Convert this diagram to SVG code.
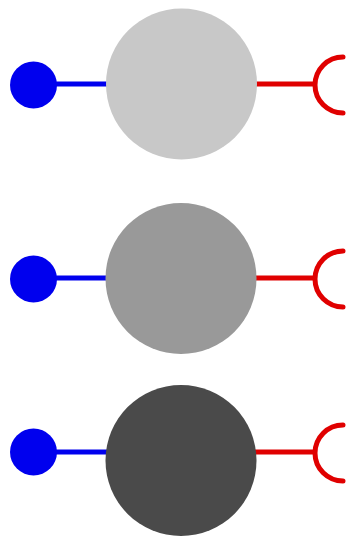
<svg xmlns="http://www.w3.org/2000/svg" width="354" height="542" viewBox="0 0 354 542">
<style>
.dot{fill:#0000ee}
.bl{stroke:#0000ee;stroke-width:5;fill:none}
.rl{stroke:#e00000;stroke-width:5;fill:none;stroke-linecap:round}
</style>
<rect width="354" height="542" fill="#ffffff"/>
<g id="connectors">
<line class="bl" x1="50" y1="84" x2="110" y2="84"/>
<line class="rl" x1="254" y1="84" x2="314" y2="84"/>
<path class="rl" d="M343,57 A28,28 0 0 0 343,113"/>
<line class="bl" x1="50" y1="278" x2="110" y2="278"/>
<line class="rl" x1="254" y1="278" x2="314" y2="278"/>
<path class="rl" d="M343,251 A28,28 0 0 0 343,307"/>
<line class="bl" x1="50" y1="452" x2="110" y2="452"/>
<line class="rl" x1="254" y1="452" x2="314" y2="452"/>
<path class="rl" d="M343,425 A28,28 0 0 0 343,481"/>
</g>
<g id="node1">
<circle class="dot" cx="33.5" cy="85" r="23.5"/>
<circle cx="181.5" cy="84" r="75.5" fill="#c8c8c8"/>
</g>
<g id="node2">
<circle class="dot" cx="33.5" cy="279" r="23.5"/>
<circle cx="181" cy="278.5" r="75.5" fill="#999999"/>
</g>
<g id="node3">
<circle class="dot" cx="33.5" cy="452" r="23.5"/>
<circle cx="181" cy="460.5" r="75.5" fill="#4a4a4a"/>
</g>
</svg>
